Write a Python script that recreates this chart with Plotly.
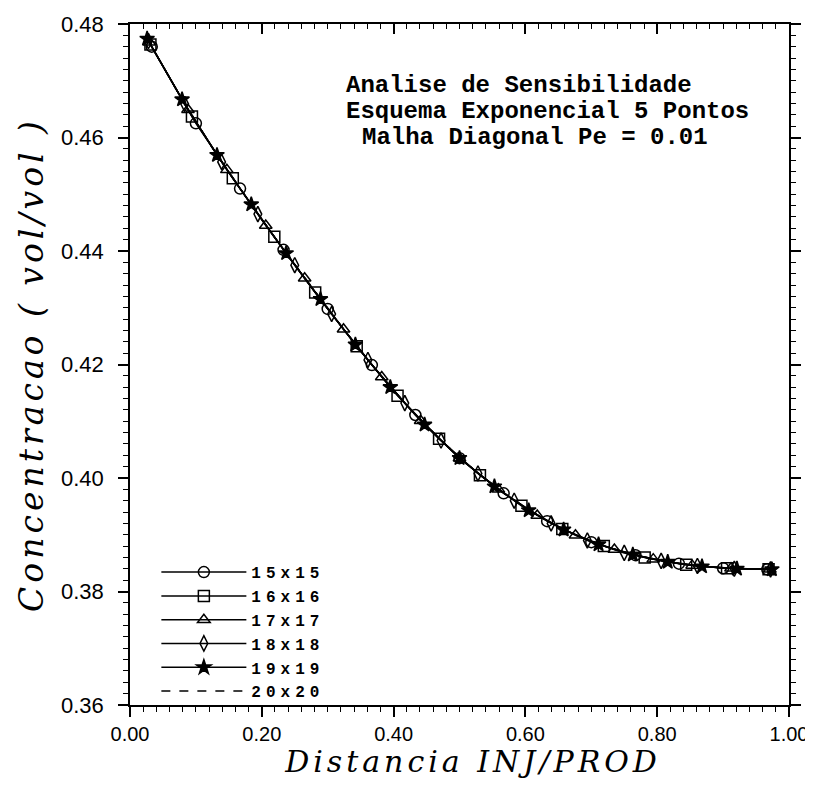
import plotly.graph_objects as go

# ---- data ----
x15 = [0.033, 0.100, 0.167, 0.233, 0.300, 0.367, 0.433, 0.500, 0.567, 0.633, 0.700, 0.767, 0.833, 0.900, 0.967]
y15 = [0.4760, 0.4625, 0.4510, 0.4402, 0.4298, 0.4199, 0.4111, 0.4035, 0.3973, 0.3924, 0.3887, 0.3864, 0.3849, 0.3841, 0.3839]

x16 = [0.031, 0.094, 0.156, 0.219, 0.281, 0.344, 0.406, 0.469, 0.531, 0.594, 0.656, 0.719, 0.781, 0.844, 0.906, 0.969]
y16 = [0.4764, 0.4637, 0.4528, 0.4425, 0.4327, 0.4232, 0.4145, 0.4069, 0.4005, 0.3951, 0.3910, 0.3880, 0.3860, 0.3847, 0.3841, 0.3839]

x17 = [0.029, 0.088, 0.147, 0.206, 0.265, 0.324, 0.382, 0.441, 0.500, 0.559, 0.618, 0.676, 0.735, 0.794, 0.853, 0.912, 0.971]
y17 = [0.4768, 0.4649, 0.4543, 0.4445, 0.4352, 0.4262, 0.4178, 0.4101, 0.4035, 0.3980, 0.3934, 0.3899, 0.3874, 0.3857, 0.3846, 0.3841, 0.3839]

x18 = [0.028, 0.083, 0.139, 0.194, 0.250, 0.306, 0.361, 0.417, 0.472, 0.528, 0.583, 0.639, 0.694, 0.750, 0.806, 0.861, 0.917, 0.972]
y18 = [0.4770, 0.4659, 0.4557, 0.4465, 0.4375, 0.4289, 0.4208, 0.4132, 0.4066, 0.4008, 0.3960, 0.3920, 0.3890, 0.3868, 0.3854, 0.3845, 0.3840, 0.3839]

x19 = [0.026, 0.079, 0.132, 0.184, 0.237, 0.289, 0.342, 0.395, 0.447, 0.500, 0.553, 0.605, 0.658, 0.711, 0.763, 0.816, 0.868, 0.921, 0.974]
y19 = [0.4774, 0.4667, 0.4569, 0.4482, 0.4396, 0.4315, 0.4235, 0.4160, 0.4094, 0.4035, 0.3985, 0.3943, 0.3909, 0.3883, 0.3865, 0.3852, 0.3844, 0.3840, 0.3839]

x20 = [0.025, 0.075, 0.125, 0.175, 0.225, 0.275, 0.325, 0.375, 0.425, 0.475, 0.525, 0.575, 0.625, 0.675, 0.725, 0.775, 0.825, 0.875, 0.925, 0.975]
y20 = [0.4776, 0.4675, 0.4582, 0.4497, 0.4415, 0.4337, 0.4261, 0.4188, 0.4122, 0.4063, 0.4011, 0.3967, 0.3930, 0.3900, 0.3878, 0.3862, 0.3851, 0.3844, 0.3840, 0.3839]

names = ["15x15", "16x16", "17x17", "18x18", "19x19", "20x20"]
title_lines = ["Analise de Sensibilidade",
               "Esquema Exponencial 5 Pontos",
               "Malha Diagonal Pe = 0.01"]
x_title = "Distancia INJ/PROD"
y_title = "Concentracao ( vol/vol )"

series = [
    (names[0], x15, y15, "circle-open"),
    (names[1], x16, y16, "square-open"),
    (names[2], x17, y17, "triangle-up-open"),
    (names[3], x18, y18, "diamond-tall-open"),
    (names[4], x19, y19, "star"),
]


def spaced(txt, px):
    return '<span style="letter-spacing:%dpx">%s</span>' % (px, txt)


fig = go.Figure()
for name, xs, ys, sym in series:
    fig.add_trace(go.Scatter(
        x=xs, y=ys, mode="lines+markers", name=spaced(name, 5),
        line=dict(color="black", width=1.5),
        marker=dict(symbol=sym, size=11, color="black",
                    line=dict(width=1.5, color="black")),
    ))
fig.add_trace(go.Scatter(
    x=x20, y=y20, mode="lines", name=spaced(names[5], 5),
    line=dict(color="black", width=1.5, dash="dash"),
))
# helper trace so the mirrored top/right axes get drawn
fig.add_trace(go.Scatter(x=[], y=[], xaxis="x2", yaxis="y2", showlegend=False))

ytickfont = dict(family="Liberation Sans", size=22, color="black")
xtickfont = dict(family="Liberation Sans", size=20, color="black")
xtitlefont = dict(family="DejaVu Serif", size=30, color="black", style="italic")
ytitlefont = dict(family="DejaVu Serif", size=33, color="black", style="italic")

common = dict(showline=True, linecolor="black", linewidth=1.5, showgrid=False,
              zeroline=False, tickcolor="black", tickwidth=1.5, ticklen=10,
              automargin=False)

fig.update_layout(
    width=805, height=771,
    margin=dict(l=122, r=24, t=16, b=74),
    paper_bgcolor="white", plot_bgcolor="white",
    xaxis=dict(range=[0, 1], dtick=0.2, tick0=0, tickformat=".2f", ticks="outside",
               tickfont=xtickfont, ticklabeloverflow="allow",
               minor=dict(dtick=0.02, ticks="outside", ticklen=5, tickcolor="black", tickwidth=1.2),
               title=dict(text=spaced("&nbsp;&nbsp;" + x_title, 4), font=xtitlefont, standoff=3),
               **common),
    yaxis=dict(range=[0.36, 0.48], dtick=0.02, tick0=0.36, tickformat=".2f", ticks="outside",
               tickfont=ytickfont, ticklabelstandoff=10, ticklabeloverflow="allow",
               minor=dict(dtick=0.002, ticks="outside", ticklen=5, tickcolor="black", tickwidth=1.2),
               title=dict(text=spaced(y_title, 4), font=ytitlefont, standoff=7),
               **common),
    xaxis2=dict(overlaying="x", side="top", anchor="y", range=[0, 1], dtick=0.2, tick0=0,
                ticks="inside", showticklabels=False,
                minor=dict(dtick=0.02, ticks="inside", ticklen=5, tickcolor="black", tickwidth=1.2),
                **common),
    yaxis2=dict(overlaying="y", side="right", anchor="x", range=[0.36, 0.48], dtick=0.02, tick0=0.36,
                ticks="outside", showticklabels=False,
                minor=dict(dtick=0.002, ticks="outside", ticklen=5, tickcolor="black", tickwidth=1.2),
                **common),
    legend=dict(x=0.04, y=0.22, xanchor="left", yanchor="top",
                bgcolor="rgba(0,0,0,0)", borderwidth=0, tracegroupgap=0,
                font=dict(family="Liberation Mono", size=16, color="black", weight="bold"),
                itemwidth=85),
    showlegend=True,
)

ann_font = dict(family="Liberation Mono", size=24, color="black")
for txt, xp, yp in zip(title_lines, [0.324, 0.324, 0.349], [0.910, 0.871, 0.833]):
    fig.add_annotation(text="<b>" + txt + "</b>", xref="paper", yref="paper", x=xp, y=yp,
                       xanchor="left", yanchor="middle", showarrow=False, font=ann_font)

fig.write_html("out.html")
